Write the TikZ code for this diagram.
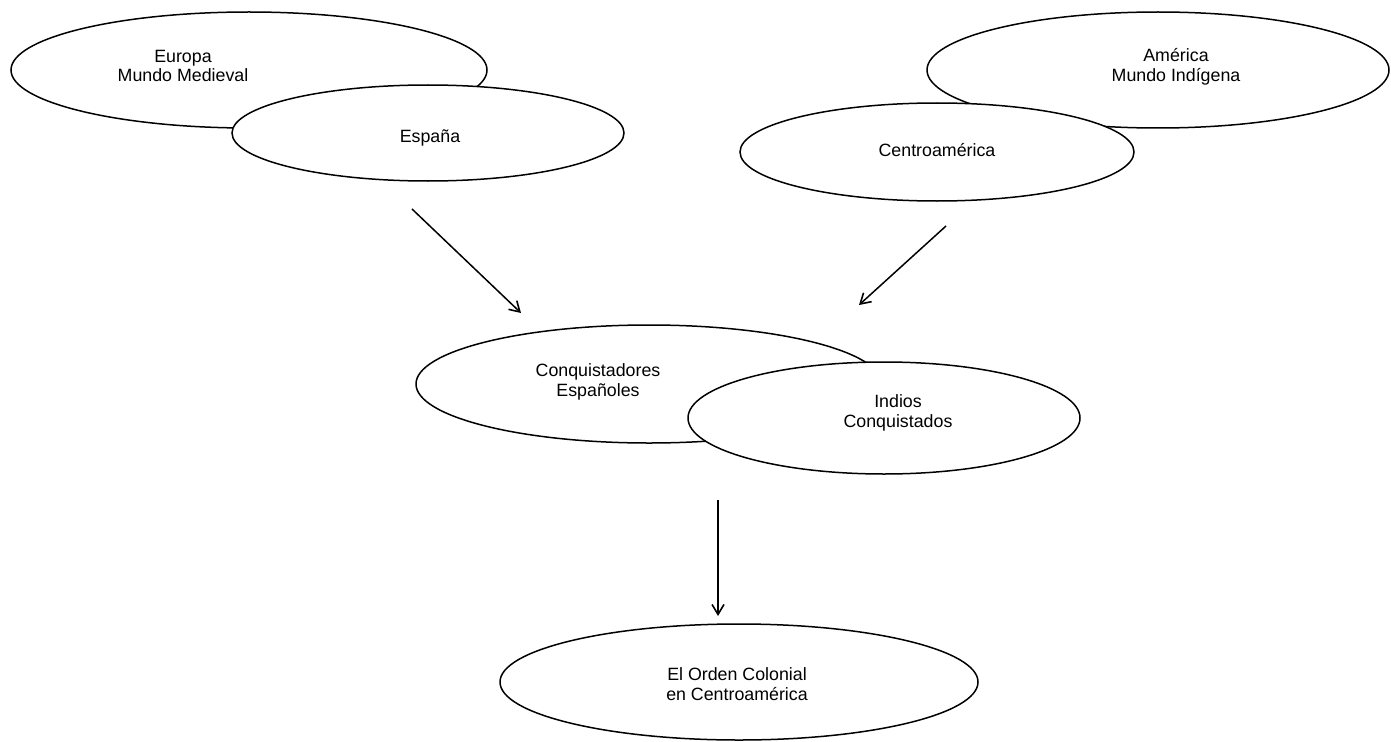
\documentclass[tikz,border=0pt]{standalone}
\usepackage{fontspec}
\setmainfont{Liberation Sans}
\usetikzlibrary{shapes.geometric,arrows.meta}
\begin{document}
\begin{tikzpicture}[x=1pt,y=-1pt,
  oval/.style={ellipse,draw=black,fill=white,line width=1.5pt,inner sep=0pt},
  lbl/.style={align=center,font=\fontsize{17.8}{19.5}\selectfont,inner sep=0pt},
  arr/.style={line width=1.5pt,-{Straight Barb[length=10pt,width=12pt,line width=1.6pt]}}]
\useasboundingbox (0,0) rectangle (1391,741);
% top left
\node[oval,minimum width=476pt,minimum height=116pt] (europa) at (249,70) {};
\node[oval,minimum width=392pt,minimum height=96pt] (espana) at (428,133) {};
\node[lbl] (teuropa) at (183,66) {Europa\\Mundo Medieval};
\node[lbl] (tespana) at (430,138) {España};
% top right
\node[oval,minimum width=462pt,minimum height=116pt] (america) at (1158,70) {};
\node[oval,minimum width=394pt,minimum height=98pt] (centro) at (937,152) {};
\node[lbl] (tamerica) at (1176,67) {América\\Mundo Indígena};
\node[lbl] (tcentro) at (937,150) {Centroamérica};
% middle
\node[oval,minimum width=466pt,minimum height=118pt] (conq) at (649,384) {};
\node[oval,minimum width=392pt,minimum height=112pt] (indios) at (884,418) {};
\node[lbl] (tconq) at (598,382) {Conquistadores\\Españoles};
\node[lbl] (tindios) at (898,413) {Indios\\Conquistados};
% bottom
\node[oval,minimum width=478pt,minimum height=116pt] (orden) at (739,682) {};
\node[lbl] (torden) at (737,684) {El Orden Colonial\\en Centroamérica};
% arrows
\coordinate (a1s) at (412,209);
\coordinate (a1e) at (521,313);
\coordinate (a2s) at (946,226);
\coordinate (a2e) at (859,305);
\coordinate (a3s) at (718,500);
\coordinate (a3e) at (718,616);
\draw[arr] (a1s) -- (a1e);
\draw[arr] (a2s) -- (a2e);
\draw[arr] (a3s) -- (a3e);
\end{tikzpicture}
\end{document}
